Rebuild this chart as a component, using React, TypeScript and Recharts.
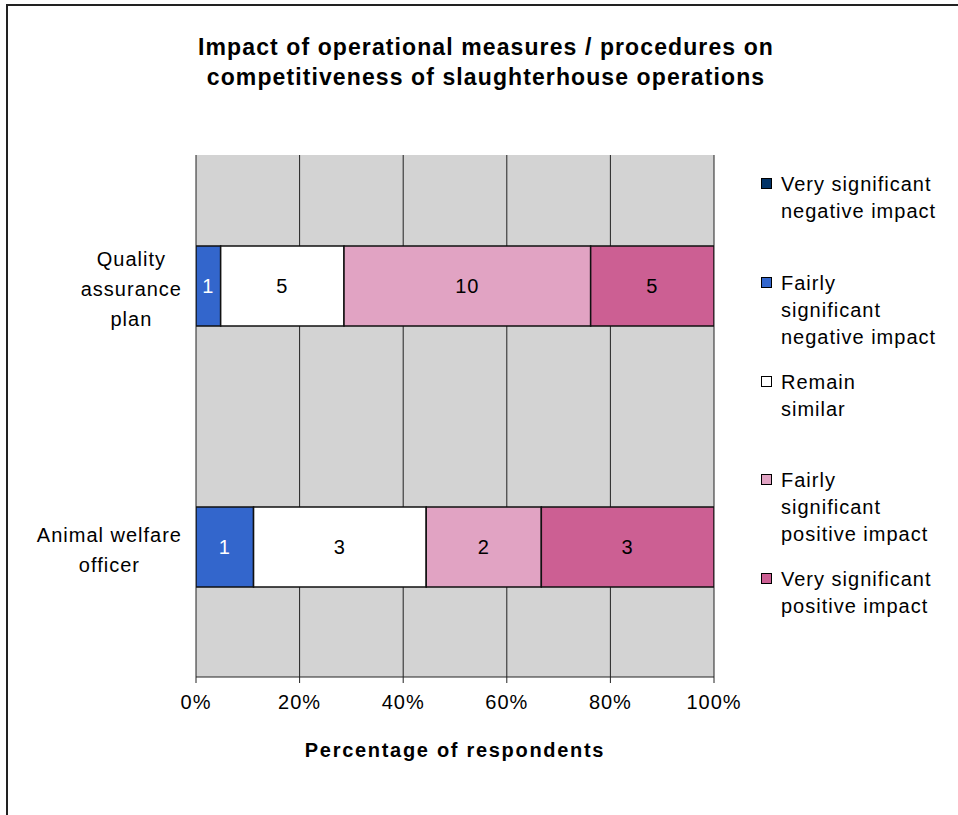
import React from "react";
import { BarChart, Bar, XAxis, YAxis, CartesianGrid } from "recharts";

const categories = ["Quality assurance plan", "Animal welfare officer"];
const categoryLines = [
  ["Quality", "assurance", "plan"],
  ["Animal welfare", "officer"],
];

const veryNegative = [0, 0];
const fairlyNegative = [1, 1];
const remainSimilar = [5, 3];
const fairlyPositive = [10, 2];
const veryPositive = [5, 3];

const xTicks = [0, 0.2, 0.4, 0.6, 0.8, 1];
const boundaryTicks = [0, 1, 2];

const series = [
  { key: "vneg", name: ["Very significant", "negative impact"], values: veryNegative, color: "#023366", text: "#ffffff" },
  { key: "fneg", name: ["Fairly", "significant", "negative impact"], values: fairlyNegative, color: "#3366CC", text: "#ffffff" },
  { key: "sim", name: ["Remain", "similar"], values: remainSimilar, color: "#FFFFFF", text: "#000000" },
  { key: "fpos", name: ["Fairly", "significant", "positive impact"], values: fairlyPositive, color: "#E1A3C3", text: "#000000" },
  { key: "vpos", name: ["Very significant", "positive impact"], values: veryPositive, color: "#CC5F93", text: "#000000" },
];

const data = categories.map((name, i) => {
  const row: Record<string, any> = { name };
  series.forEach((s) => (row[s.key] = s.values[i]));
  return row;
});

const FONT = "'Liberation Sans', Arial, sans-serif";
const FS = 20;
const LS = 1;

let canvas: HTMLCanvasElement | null = null;
function textWidth(t: string, size: number) {
  if (!canvas) canvas = document.createElement("canvas");
  const ctx = canvas.getContext("2d");
  if (!ctx) return t.length * size * 0.55;
  ctx.font = `${size}px ${FONT}`;
  return ctx.measureText(t).width + t.length * LS;
}

function CategoryTick(props: any) {
  const { x, y, payload } = props;
  const idx = categories.indexOf(payload.value);
  const lines = categoryLines[idx] || [payload.value];
  const w = Math.max(...lines.map((l) => textWidth(l, FS)));
  const cx = x - w / 2;
  const lh = 30;
  const top = y + 3 - ((lines.length - 1) * lh) / 2;
  return (
    <g>
      {lines.map((l, i) => (
        <text
          key={i}
          x={cx}
          y={top + i * lh}
          textAnchor="middle"
          dominantBaseline="central"
          fontSize={FS}
          letterSpacing={LS}
          fontFamily={FONT}
          fill="#000"
        >
          {l}
        </text>
      ))}
    </g>
  );
}

function makeLabel(values: number[], color: string) {
  return (p: any) => {
    const v = values[p.index];
    if (!v) return null;
    return (
      <text
        x={p.x + p.width / 2}
        y={p.y + p.height / 2}
        textAnchor="middle"
        dominantBaseline="central"
        fontSize={FS}
        letterSpacing={LS}
        fontFamily={FONT}
        fill={color}
      >
        {v}
      </text>
    );
  };
}

function LegendBox() {
  const tops = [171, 270, 369, 467, 566];
  return (
    <div style={{ position: "absolute", left: 760, top: 0, fontFamily: FONT, fontSize: FS, letterSpacing: LS, color: "#000" }}>
      {series.map((s, i) => (
        <div key={s.key} style={{ position: "absolute", left: 0, top: tops[i], width: 198 }}>
          <div
            style={{
              position: "absolute",
              left: 1,
              top: 7,
              width: 9,
              height: 9,
              background: s.color,
              border: "1.5px solid #000",
            }}
          />
          {s.name.map((l, j) => (
            <div
              key={j}
              style={{ position: "absolute", left: 21, top: j * 27, lineHeight: "27px", whiteSpace: "nowrap" }}
            >
              {l}
            </div>
          ))}
        </div>
      ))}
    </div>
  );
}

export default function App() {
  return (
    <div
      style={{
        position: "absolute",
        left: 0,
        top: 0,
        width: 958,
        height: 815,
        background: "#fff",
        overflow: "hidden",
      }}
    >
      <div
        style={{
          position: "absolute",
          left: 6,
          top: 4,
          width: 1000,
          height: 900,
          borderLeft: "2px solid #222",
          borderTop: "2px solid #222",
        }}
      />
      <div
        style={{
          position: "absolute",
          left: 0,
          top: 32,
          width: 972,
          textAlign: "center",
          fontFamily: FONT,
          fontWeight: "bold",
          fontSize: 23,
          letterSpacing: 1.1,
          lineHeight: "30px",
          color: "#000",
        }}
      >
        Impact of operational measures / procedures on
        <br />
        competitiveness of slaughterhouse operations
      </div>
      <BarChart
        width={958}
        height={815}
        data={data}
        layout="vertical"
        stackOffset="expand"
        barSize={80}
        margin={{ top: 155, right: 244, bottom: 48, left: 6 }}
        style={{ position: "absolute", left: 0, top: 0 }}
      >
        <CartesianGrid
          horizontal={false}
          stroke="#222"
          strokeWidth={1}
          fill="#D3D3D3"
          fillOpacity={1}
        />
        <XAxis
          type="number"
          domain={[0, 1]}
          ticks={xTicks}
          allowDataOverflow
          tickFormatter={(v: number) => `${Math.round(v * 100)}%`}
          tick={{ fill: "#000", fontSize: FS, fontFamily: FONT, letterSpacing: LS }}
          tickSize={6}
          tickMargin={12}
          stroke="#222"
          height={90}
          label={{
            value: "Percentage of respondents",
            position: "insideBottom",
            offset: 10,
            fill: "#000",
            fontSize: FS,
            fontWeight: "bold",
            letterSpacing: 1.7,
            fontFamily: FONT,
          }}
        />
        <YAxis
          yAxisId="edges"
          type="number"
          orientation="left"
          domain={[0, 2]}
          ticks={boundaryTicks}
          width={0}
          tickSize={6}
          tick={() => <g />}
          stroke="#222"
          reversed
        />
        <YAxis
          type="category"
          dataKey="name"
          width={190}
          tickSize={0}
          tickMargin={14}
          axisLine={false}
          tickLine={false}
          tick={<CategoryTick />}
        />
        {series.map((s) => (
          <Bar
            key={s.key}
            dataKey={s.key}
            name={s.name.join(" ")}
            stackId="a"
            fill={s.color}
            stroke="#111"
            strokeWidth={1.5}
            isAnimationActive={false}
            label={makeLabel(s.values, s.text)}
          />
        ))}
      </BarChart>
      <LegendBox />
    </div>
  );
}
